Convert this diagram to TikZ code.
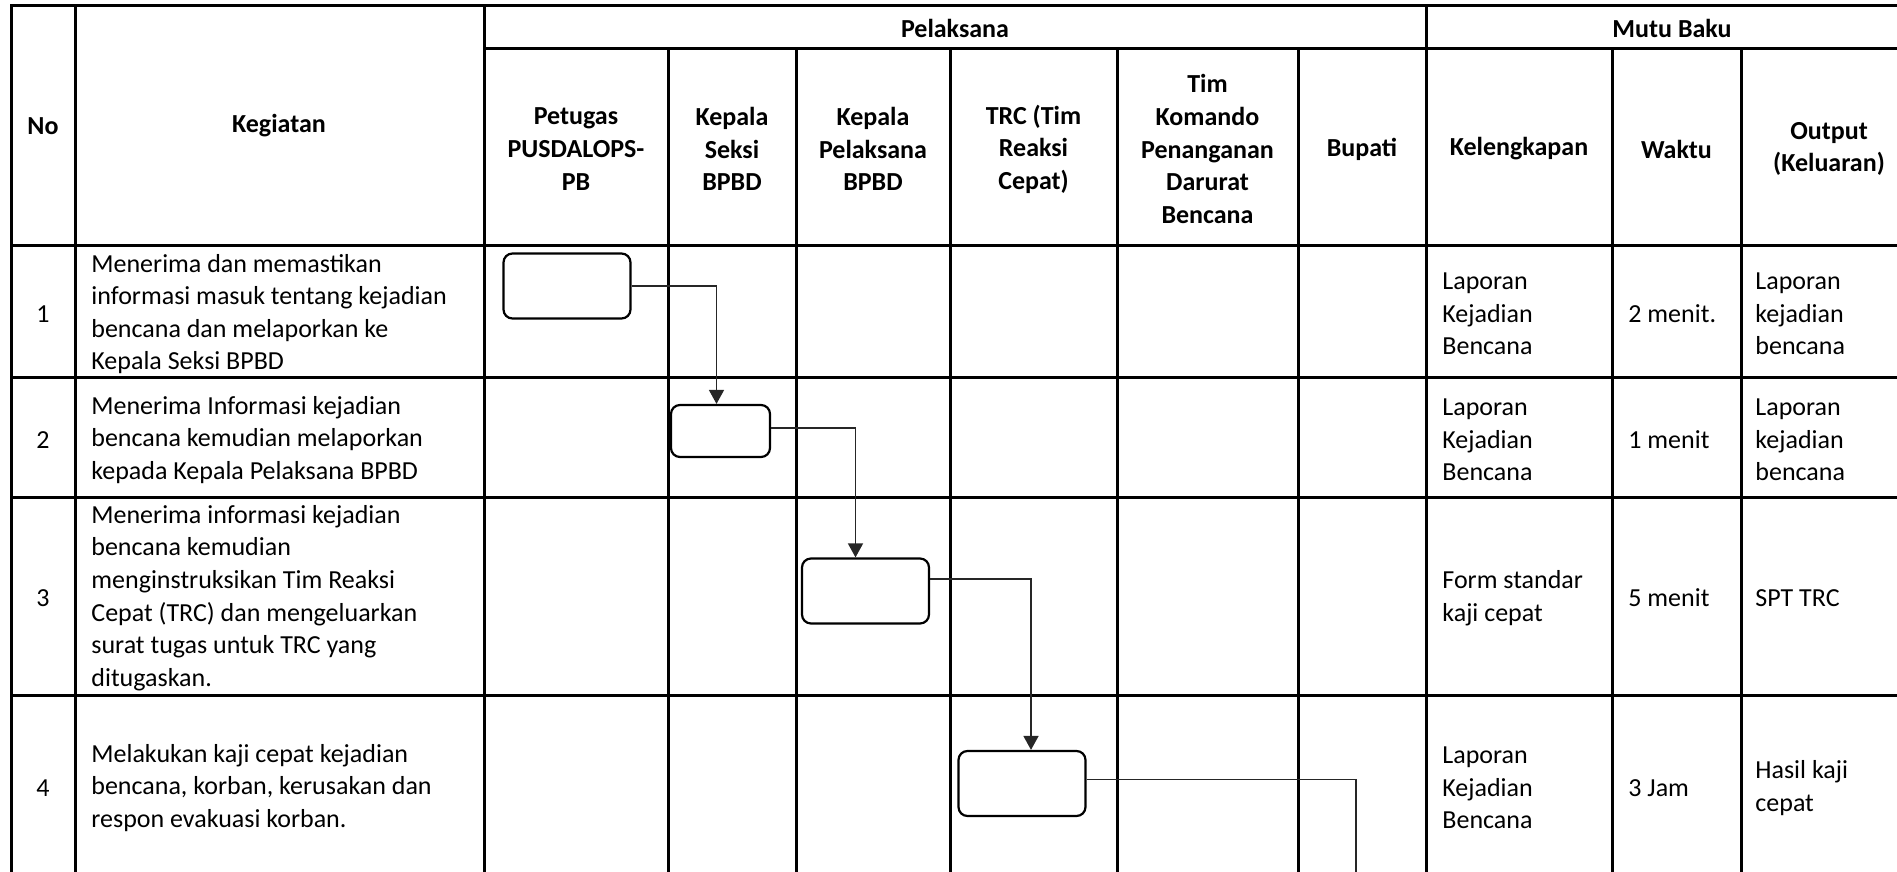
\documentclass[tikz,border=0pt]{standalone}
\usepackage{fontspec}
\setmainfont{Carlito}
\usetikzlibrary{arrows.meta}

\begin{document}
\begin{tikzpicture}[x=0.5pt, y=-0.5pt,
    grid/.style={line width=1.5pt},
    head/.style={font=\fontsize{13}{16.3}\selectfont\bfseries, align=center, inner sep=0pt},
    cell/.style={font=\fontsize{13}{16.3}\selectfont, align=left, anchor=west, inner sep=0pt},
    num/.style={font=\fontsize{13}{16.3}\selectfont, inner sep=0pt},
    act/.style={draw, line width=1.1pt, rounded corners=4.5pt, minimum width=63.5pt, minimum height=32.5pt},
    flow/.style={draw=black!85, line width=0.8pt, -{Triangle[length=7pt, width=7.5pt]}}]
    \useasboundingbox (0,0) rectangle (1897,872);

    \draw [grid] (1897,6) -- (11,6) -- (11,872);
    \draw [grid] (484,49) -- (1897,49);
    \foreach \y in {245,377,497,695} \draw [grid] (11,\y) -- (1897,\y);
    \foreach \x in {75,484,1426} \draw [grid] (\x,6) -- (\x,872);
    \foreach \x in {668,796,950,1117,1298,1612,1741} \draw [grid] (\x,49) -- (\x,872);

    \node [head] (no) at (43,126) {No};
    \node [head] (keg) at (279,126) {Kegiatan};
    \node [head] (pel) at (955,28) {Pelaksana};
    \node [head] (mutu) at (1672,28) {Mutu Baku};
    \node [head] (petugas) at (576,149) {Petugas\\PUSDALOPS-\\PB};
    \node [head] (kasi) at (732,149) {Kepala\\Seksi\\BPBD};
    \node [head] (kalak) at (873,149) {Kepala\\Pelaksana\\BPBD};
    \node [head] (trc) at (1033.5,149) {TRC (Tim\\Reaksi\\Cepat)};
    \node [head] (tim) at (1207.5,149) {Tim\\Komando\\Penanganan\\Darurat\\Bencana};
    \node [head] (bupati) at (1362,149) {Bupati};
    \node [head] (lengkap) at (1519,149) {Kelengkapan};
    \node [head] (waktu) at (1676.5,149) {Waktu};
    \node [head] (output) at (1829,149) {Output\\(Keluaran)};

    \node [num] (n1) at (43,314) {1};
    \node [num] (n2) at (43,440) {2};
    \node [num] (n3) at (43,598) {3};
    \node [num] (n4) at (43,788) {4};

    \node [cell] (k1) at (91,314) {Menerima dan memastikan\\informasi masuk tentang kejadian\\bencana dan melaporkan ke\\Kepala Seksi BPBD};
    \node [cell] (k2) at (91,440) {Menerima Informasi kejadian\\bencana kemudian melaporkan\\kepada Kepala Pelaksana BPBD};
    \node [cell] (k3) at (91,598) {Menerima informasi kejadian\\bencana kemudian\\menginstruksikan Tim Reaksi\\Cepat (TRC) dan mengeluarkan\\surat tugas untuk TRC yang\\ditugaskan.};
    \node [cell] (k4) at (91,788) {Melakukan kaji cepat kejadian\\bencana, korban, kerusakan dan\\respon evakuasi korban.};

    \node [cell] (l1) at (1442,314) {Laporan\\Kejadian\\Bencana};
    \node [cell] (w1) at (1628,314) {2 menit.};
    \node [cell] (o1) at (1755,314) {Laporan\\kejadian\\bencana};
    \node [cell] (l2) at (1442,440) {Laporan\\Kejadian\\Bencana};
    \node [cell] (w2) at (1628,440) {1 menit};
    \node [cell] (o2) at (1755,440) {Laporan\\kejadian\\bencana};
    \node [cell] (l3) at (1442,598) {Form standar\\kaji cepat};
    \node [cell] (w3) at (1628,598) {5 menit};
    \node [cell] (o3) at (1755,598) {SPT TRC};
    \node [cell] (l4) at (1442,788) {Laporan\\Kejadian\\Bencana};
    \node [cell] (w4) at (1628,788) {3 Jam};
    \node [cell] (o4) at (1755,788) {Hasil kaji\\cepat};

    \node [act] (b1) at (567,286) {};
    \node [act, minimum width=49.5pt, minimum height=26pt] (b2) at (720.5,431) {};
    \node [act] (b3) at (865.5,591) {};
    \node [act] (b4) at (1022,783.5) {};
    \coordinate (e4) at (1356,872);

    \draw [flow] (b1.east) -| ([xshift=-2pt]b2.north);
    \draw [flow] ([yshift=1.5pt]b2.east) -| ([xshift=-5pt]b3.north);
    \draw [flow] ([yshift=6pt]b3.east) -| ([xshift=4.5pt]b4.north);
    \draw [flow, -] ([yshift=2pt]b4.east) -| (e4);
\end{tikzpicture}
\end{document}
